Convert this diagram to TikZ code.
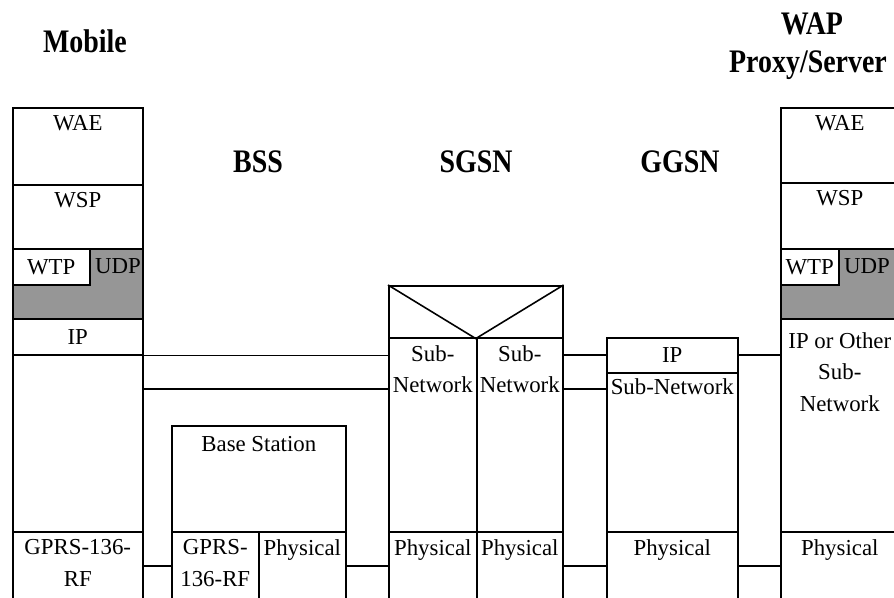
\documentclass[tikz,border=0pt]{standalone}
\usepackage{fontspec}
\setmainfont{Liberation Serif}
\newfontfamily\headfont[FakeStretch=0.85]{Liberation Serif}
\usepackage{tikz}
\usetikzlibrary{positioning}
\definecolor{udpgray}{RGB}{150,150,150}
\newcommand{\px}{0.02cm}

\begin{document}
\begin{tikzpicture}
[x=0.02cm,y=-0.02cm,font=\fontsize{13}{18}\selectfont,
 layer/.style 2 args={draw,line width=0.9pt,anchor=north west,inner sep=0pt,
   minimum width=#1*\px,minimum height=#2*\px},
 toptext/.style={label={[anchor=north,inner sep=0pt,align=center,yshift=-4.5pt]north:{#1}}},
 udp/.style={fill=udpgray},
 head/.style={font=\fontsize{18.7}{22}\headfont\bfseries},
 link/.style={line width=0.9pt}]
\useasboundingbox (0,0) rectangle (894,598);
\clip (0,0) rectangle (894,598);

% titles
\node[head] (mobile) at (85,41) {Mobile};
\node[head] (bss) at (258,162) {BSS};
\node[head] (sgsn) at (476,162) {SGSN};
\node[head] (ggsn) at (680,162) {GGSN};
\node[head] (wap) at (812,24) {WAP};
\node[head] (proxy) at (808,65) {Proxy/Server};

% mobile stack
\node[layer={130}{77},toptext=WAE] (mwae) at (12,107) {};
\node[layer={130}{64},toptext=WSP] (mwsp) at (12,184) {};
\node[layer={130}{70},udp] (mudp) at (12,248) {};
\node[layer={77}{36},fill=white] (mwtp) at (12,248) {WTP};
\node (mudptext) at (118,266) {UDP};
\node[layer={130}{36}] (mip) at (12,318) {IP};
\node[layer={130}{177}] (mlink) at (12,354) {};
\node[layer={130}{80},toptext={GPRS-136-\\RF}] (mrf) at (12,531) {};

% base station
\node[layer={174}{106},label={[anchor=north,inner sep=0pt,yshift=-6.5pt]north:Base Station}] (bs) at (171,425) {};
\node[layer={87}{80},toptext={GPRS-\\136-RF}] (bsrf) at (171,531) {};
\node[layer={87}{80},toptext=Physical] (bsphy) at (258,531) {};

% sgsn
\node[layer={174}{52}] (sgtop) at (388,285) {};
\node[layer={88}{194},toptext={Sub-\\Network}] (sgsubl) at (388,337) {};
\node[layer={86}{194},toptext={Sub-\\Network}] (sgsubr) at (476,337) {};
\node[layer={88}{80},toptext=Physical] (sgphyl) at (388,531) {};
\node[layer={86}{80},toptext=Physical] (sgphyr) at (476,531) {};
\draw [link] (sgtop.north west) -- (sgtop.south) -- (sgtop.north east);

% ggsn
\node[layer={131}{35}] (ggip) at (606,337) {IP};
\node[layer={131}{159},label={[anchor=north,inner sep=0pt,yshift=-3.5pt]north:Sub-Network}] (ggsub) at (606,372) {};
\node[layer={131}{80},toptext=Physical] (ggphy) at (606,531) {};

% wap proxy/server
\node[layer={118}{75},toptext=WAE] (wwae) at (780,107) {};
\node[layer={118}{66},toptext=WSP] (wwsp) at (780,182) {};
\node[layer={118}{70},udp] (wudp) at (780,248) {};
\node[layer={58}{36},fill=white] (wwtp) at (780,248) {WTP};
\node (wudptext) at (867,266) {UDP};
\node[layer={118}{213},label={[anchor=north,inner sep=0pt,align=center,yshift=-8pt]north:{IP or Other\\Sub-\\Network}}] (wip) at (780,318) {};
\node[layer={118}{80},toptext=Physical] (wphy) at (780,531) {};

% links
\coordinate (lowlink) at (0,389);
\coordinate (phylink) at (0,566);
\draw [link] (mip.south east) -- (mip.south east -| sgsubl.west);
\draw [link] (mlink.east |- lowlink) -- (sgsubl.west |- lowlink);
\draw [link] (ggip.west -| sgsubr.east) -- (ggip.west);
\draw [link] (sgsubr.east |- lowlink) -- (ggsub.west |- lowlink);
\draw [link] (ggip.east) -- (ggip.east -| wip.west);
\draw [link] (mrf.east |- phylink) -- (bsrf.west |- phylink);
\draw [link] (bsphy.east |- phylink) -- (sgphyl.west |- phylink);
\draw [link] (sgphyr.east |- phylink) -- (ggphy.west |- phylink);
\draw [link] (ggphy.east |- phylink) -- (wphy.west |- phylink);
\end{tikzpicture}
\end{document}
